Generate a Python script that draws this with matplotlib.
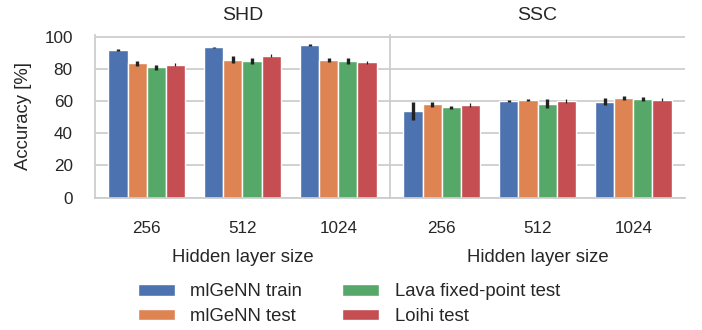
import matplotlib
matplotlib.use("Agg")
import matplotlib.pyplot as plt
import numpy as np

plt.rcParams['font.family'] = ['Liberation Sans', 'DejaVu Sans']

datasets = ["SHD", "SSC"]
hidden_sizes = ["256", "512", "1024"]
series = ["mlGeNN train", "mlGeNN test", "Lava fixed-point test", "Loihi test"]
colors = ["#4C72B0", "#DD8452", "#55A868", "#C44E52"]

# values [series][hidden size]
shd_mean = [
    [92.3, 93.8, 95.2],
    [83.8, 86.1, 86.1],
    [81.3, 85.2, 85.2],
    [82.9, 88.6, 84.4],
]
shd_err = [
    [0.5, 0.4, 0.5],
    [1.5, 2.2, 1.2],
    [1.4, 2.0, 2.0],
    [1.0, 1.0, 1.0],
]
ssc_mean = [
    [54.0, 60.5, 59.9],
    [58.2, 61.1, 62.2],
    [56.3, 58.6, 61.6],
    [57.6, 60.3, 61.1],
]
ssc_err = [
    [5.9, 0.6, 2.0],
    [1.6, 0.6, 1.0],
    [1.0, 2.7, 1.2],
    [1.2, 1.0, 1.0],
]
means = {"SHD": shd_mean, "SSC": ssc_mean}
errs = {"SHD": shd_err, "SSC": ssc_err}

fig, axes = plt.subplots(1, 2, figsize=(7.02, 3.30), dpi=100, sharey=True)
fig.subplots_adjust(left=0.1353, right=0.9758, top=0.894, bottom=0.4015, wspace=0)

x = np.arange(len(hidden_sizes))
width = 0.2
grid_c = "#cccccc"
txt_c = "#262626"
for ax, ds in zip(axes, datasets):
    ax.set_axisbelow(True)
    for i, (name, c) in enumerate(zip(series, colors)):
        pos = x + (i - 1.5) * width
        m = means[ds][i]
        e = errs[ds][i]
        ax.bar(pos, m, width, color=c, edgecolor="white", linewidth=1.0, label=name)
        lw = 0.9 if i == 3 else 2.4
        for p, mv, ev in zip(pos, m, e):
            ax.plot([p, p], [mv - ev, mv + ev], color="#222222", lw=lw,
                    solid_capstyle="butt", zorder=3)
    ax.set_xlim(-0.54, 2.54)
    ax.set_ylim(0, 101.5)
    ax.set_xticks(x)
    ax.set_xticklabels(hidden_sizes)
    ax.set_yticks([0, 20, 40, 60, 80, 100])
    ax.tick_params(axis="both", length=0, labelsize=12.3, colors=txt_c)
    ax.tick_params(axis="x", pad=16.8)
    ax.tick_params(axis="y", pad=16.0)
    ax.grid(axis="y", color=grid_c, lw=1.25)
    ax.grid(axis="x", visible=False)
    for s in ["top", "right"]:
        ax.spines[s].set_visible(False)
    for s in ["left", "bottom"]:
        ax.spines[s].set_color(grid_c)
        ax.spines[s].set_linewidth(1.25)
    ax.set_title(ds, fontsize=14, color=txt_c, pad=11.0)
    ax.set_xlabel("Hidden layer size", fontsize=13.3, color=txt_c)
    ax.xaxis.set_label_coords(0.5, -0.316)

axes[0].set_ylabel("Accuracy [%]", fontsize=13.3, color=txt_c)
axes[0].yaxis.set_label_coords(-0.214, 0.5)
axes[1].tick_params(axis="y", labelleft=False)

handles, labels = axes[0].get_legend_handles_labels()
fig.legend(handles, labels, loc="lower center", ncol=2, frameon=False,
           fontsize=13.3, bbox_to_anchor=(0.497, -0.035), handlelength=2.0,
           handleheight=0.6, columnspacing=2.16, handletextpad=0.85,
           labelspacing=0.42, labelcolor=txt_c)

fig.savefig("out.png", dpi=100)
